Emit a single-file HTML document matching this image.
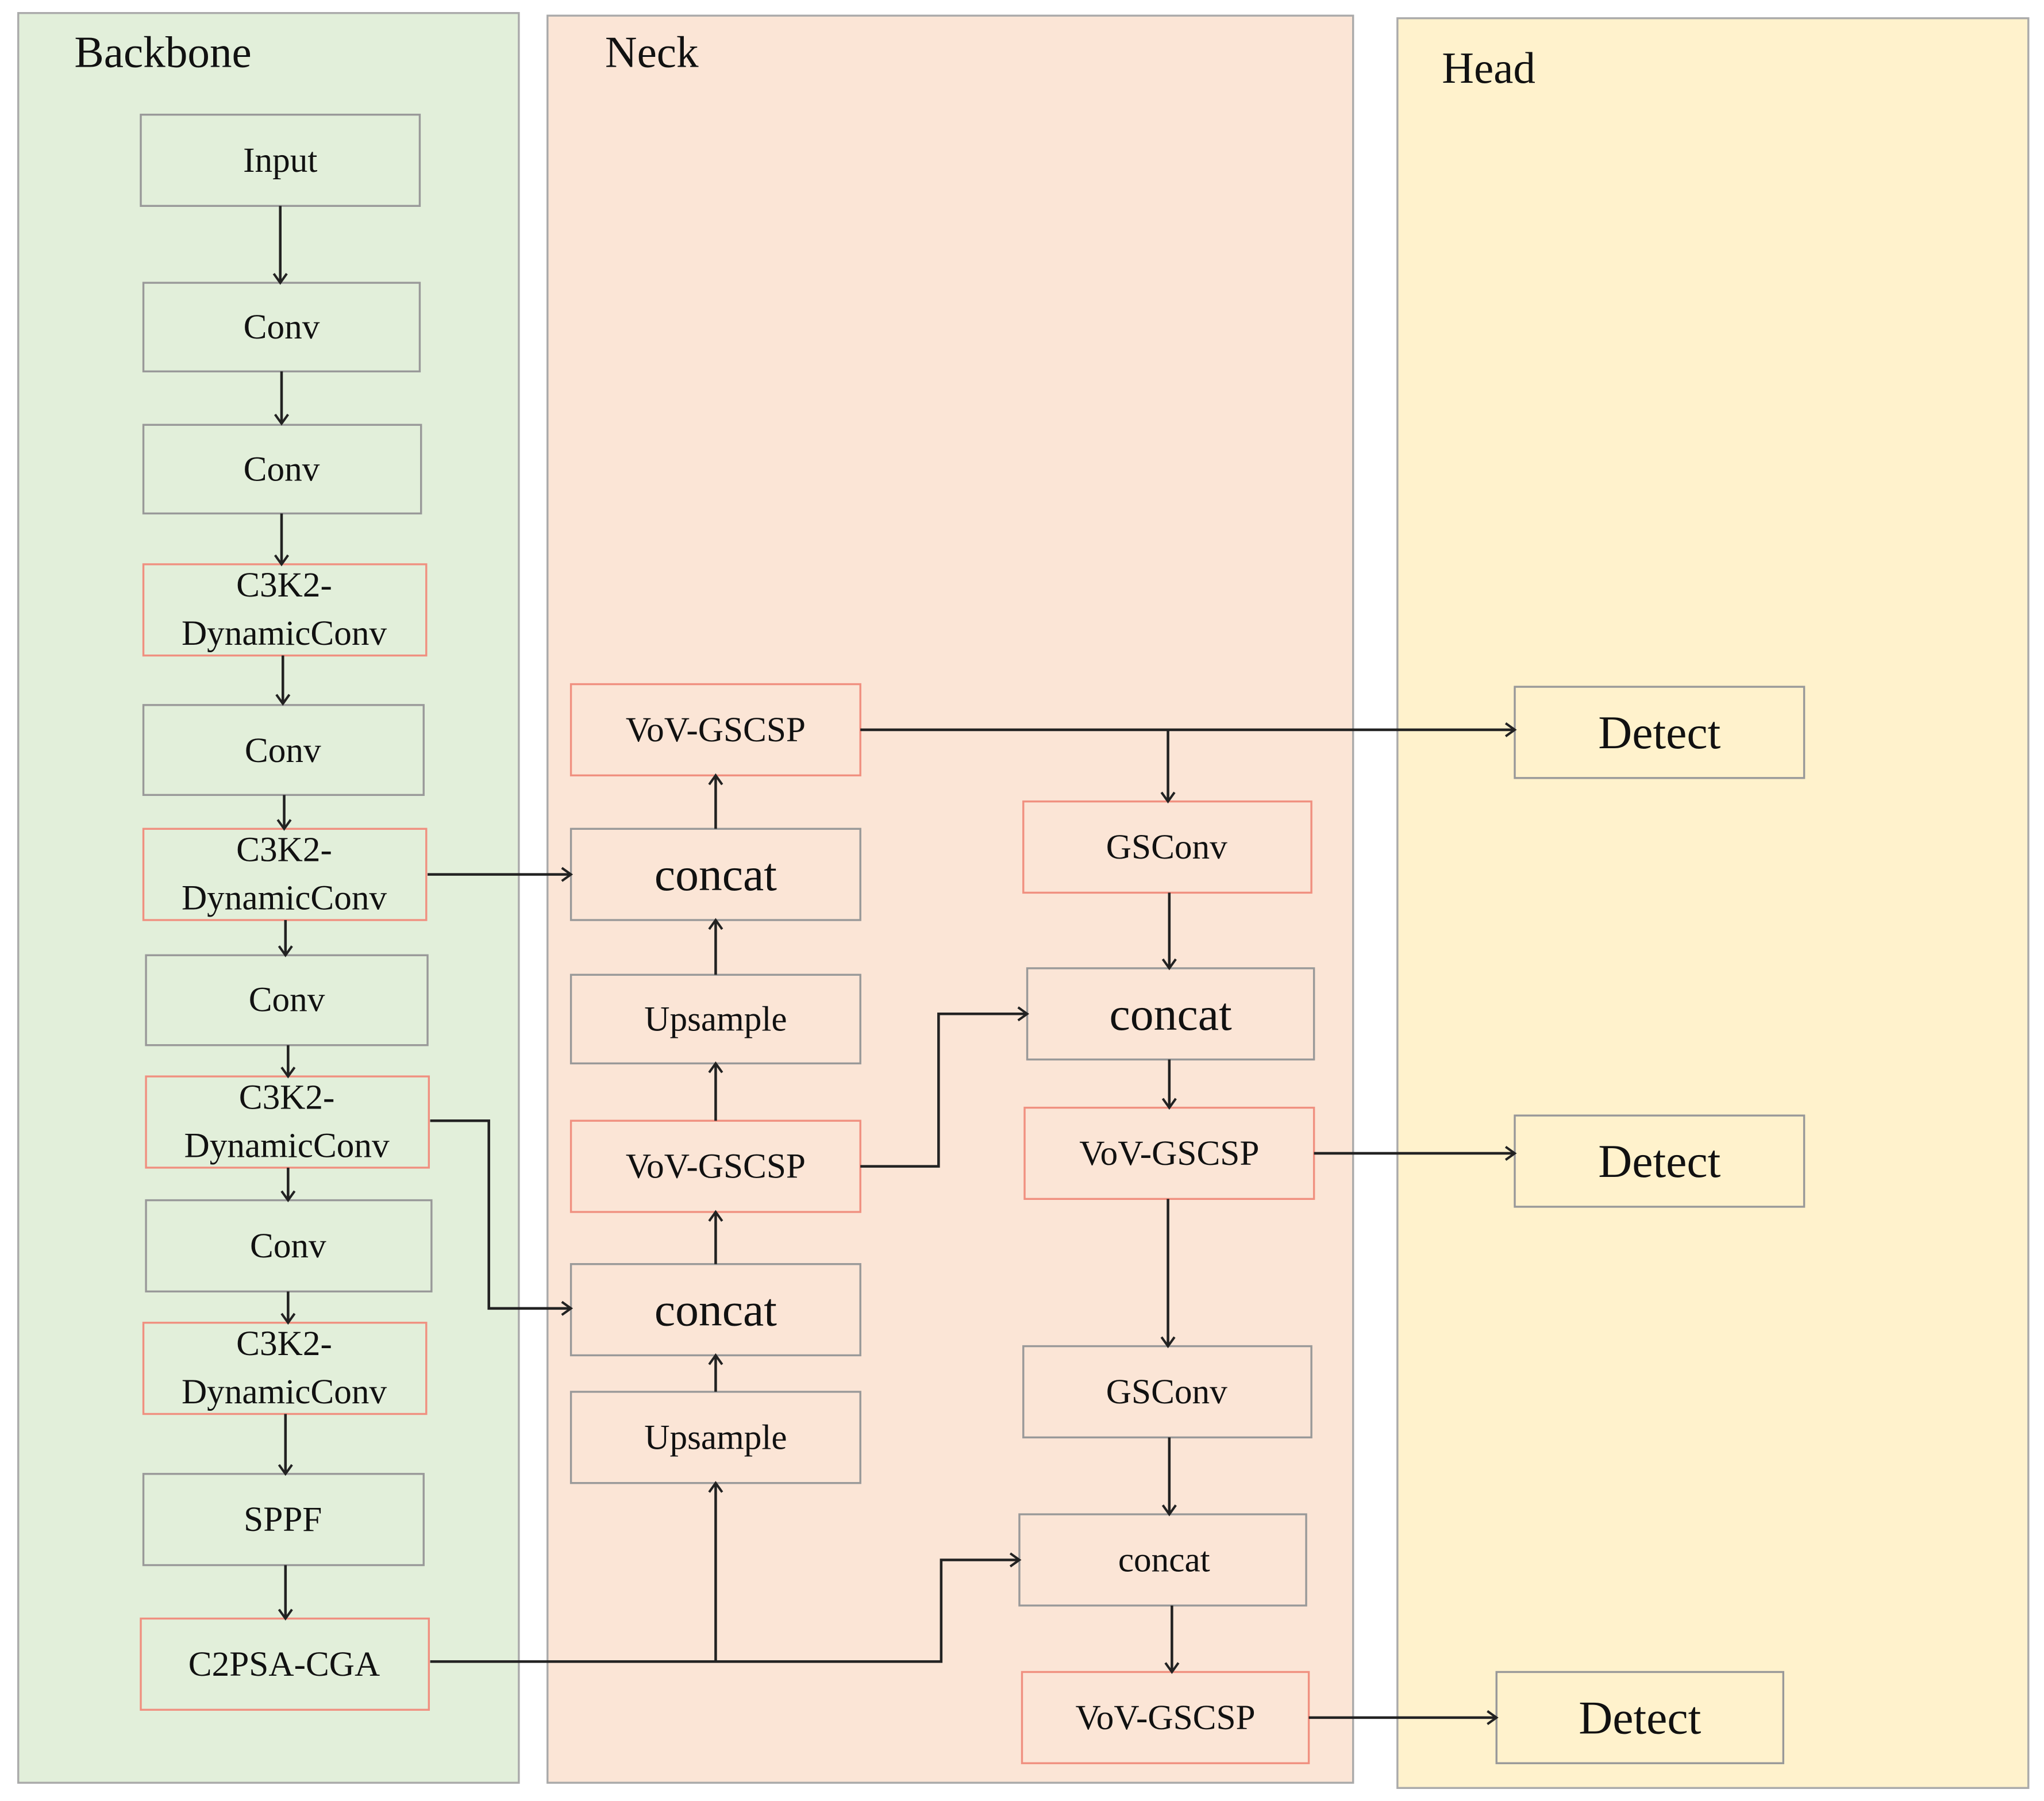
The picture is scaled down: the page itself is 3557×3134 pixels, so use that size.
<!DOCTYPE html>
<html><head><meta charset="utf-8"><style>
html,body{margin:0;padding:0;background:#fff;}
svg{display:block;}
text{font-family:"Liberation Serif",serif;fill:#111;text-anchor:middle;dominant-baseline:central;}
</style></head><body>
<svg width="3557" height="3134" viewBox="0 0 1568 1382" preserveAspectRatio="none" xmlns="http://www.w3.org/2000/svg">
<defs>
<marker id="a" markerWidth="12" markerHeight="12" refX="10" refY="6" orient="auto" markerUnits="userSpaceOnUse">
<polyline points="3,1 10,6 3,11" fill="none" stroke="#222" stroke-width="1.8"/>
</marker>
</defs>
<rect width="1568" height="1382" fill="#fff"/>
<rect x="14" y="10" width="384" height="1358" fill="#e2efda" stroke="#aaa" stroke-width="1.5"/>
<rect x="420" y="12" width="618" height="1356" fill="#fbe5d6" stroke="#aaa" stroke-width="1.5"/>
<rect x="1072" y="14" width="484" height="1358" fill="#fff2cc" stroke="#aaa" stroke-width="1.5"/>
<text x="125" y="40" font-size="34">Backbone</text>
<text x="500" y="40" font-size="34">Neck</text>
<text x="1142" y="52" font-size="34">Head</text>

<g stroke-width="1.5">
<!-- backbone -->
<rect x="108" y="88" width="214" height="70" fill="#e2efda" stroke="#999"/>
<rect x="110" y="217" width="212" height="68" fill="#e2efda" stroke="#999"/>
<rect x="110" y="326" width="213" height="68" fill="#e2efda" stroke="#999"/>
<rect x="110" y="433" width="217" height="70" fill="#e2efda" stroke="#f09080"/>
<rect x="110" y="541" width="215" height="69" fill="#e2efda" stroke="#999"/>
<rect x="110" y="636" width="217" height="70" fill="#e2efda" stroke="#f09080"/>
<rect x="112" y="733" width="216" height="69" fill="#e2efda" stroke="#999"/>
<rect x="112" y="826" width="217" height="70" fill="#e2efda" stroke="#f09080"/>
<rect x="112" y="921" width="219" height="70" fill="#e2efda" stroke="#999"/>
<rect x="110" y="1015" width="217" height="70" fill="#e2efda" stroke="#f09080"/>
<rect x="110" y="1131" width="215" height="70" fill="#e2efda" stroke="#999"/>
<rect x="108" y="1242" width="221" height="70" fill="#e2efda" stroke="#f09080"/>
<!-- neck -->
<rect x="438" y="525" width="222" height="70" fill="#fbe5d6" stroke="#f09080"/>
<rect x="438" y="636" width="222" height="70" fill="#fbe5d6" stroke="#999"/>
<rect x="438" y="748" width="222" height="68" fill="#fbe5d6" stroke="#999"/>
<rect x="438" y="860" width="222" height="70" fill="#fbe5d6" stroke="#f09080"/>
<rect x="438" y="970" width="222" height="70" fill="#fbe5d6" stroke="#999"/>
<rect x="438" y="1068" width="222" height="70" fill="#fbe5d6" stroke="#999"/>
<rect x="785" y="615" width="221" height="70" fill="#fbe5d6" stroke="#f09080"/>
<rect x="788" y="743" width="220" height="70" fill="#fbe5d6" stroke="#999"/>
<rect x="786" y="850" width="222" height="70" fill="#fbe5d6" stroke="#f09080"/>
<rect x="785" y="1033" width="221" height="70" fill="#fbe5d6" stroke="#999"/>
<rect x="782" y="1162" width="220" height="70" fill="#fbe5d6" stroke="#999"/>
<rect x="784" y="1283" width="220" height="70" fill="#fbe5d6" stroke="#f09080"/>
<!-- head -->
<rect x="1162" y="527" width="222" height="70" fill="#fff2cc" stroke="#999"/>
<rect x="1162" y="856" width="222" height="70" fill="#fff2cc" stroke="#999"/>
<rect x="1148" y="1283" width="220" height="70" fill="#fff2cc" stroke="#999"/>
</g>

<g font-size="27">
<text x="215" y="123">Input</text>
<text x="216" y="251">Conv</text>
<text x="216" y="360">Conv</text>
<text x="218" y="449">C3K2-</text><text x="218" y="486">DynamicConv</text>
<text x="217" y="576">Conv</text>
<text x="218" y="652">C3K2-</text><text x="218" y="689">DynamicConv</text>
<text x="220" y="767">Conv</text>
<text x="220" y="842">C3K2-</text><text x="220" y="879">DynamicConv</text>
<text x="221" y="956">Conv</text>
<text x="218" y="1031">C3K2-</text><text x="218" y="1068">DynamicConv</text>
<text x="217" y="1166">SPPF</text>
<text x="218" y="1277">C2PSA-CGA</text>
<text x="549" y="560">VoV-GSCSP</text>
<text x="549" y="782">Upsample</text>
<text x="549" y="895">VoV-GSCSP</text>
<text x="549" y="1103">Upsample</text>
<text x="895" y="650">GSConv</text>
<text x="897" y="885">VoV-GSCSP</text>
<text x="895" y="1068">GSConv</text>
<text x="893" y="1197">concat</text>
<text x="894" y="1318">VoV-GSCSP</text>
</g>
<g font-size="36">
<text x="549" y="671">concat</text>
<text x="549" y="1005">concat</text>
<text x="898" y="778">concat</text>
<text x="1273" y="562">Detect</text>
<text x="1273" y="891">Detect</text>
<text x="1258" y="1318">Detect</text>
</g>

<g stroke="#222" stroke-width="2" fill="none" marker-end="url(#a)">
<line x1="215" y1="158" x2="215" y2="217"/>
<line x1="216" y1="285" x2="216" y2="325"/>
<line x1="216" y1="394" x2="216" y2="433"/>
<line x1="217" y1="503" x2="217" y2="540"/>
<line x1="218" y1="610" x2="218" y2="636"/>
<line x1="219" y1="706" x2="219" y2="733"/>
<line x1="221" y1="802" x2="221" y2="826"/>
<line x1="221" y1="896" x2="221" y2="921"/>
<line x1="221" y1="991" x2="221" y2="1015"/>
<line x1="219" y1="1085" x2="219" y2="1131"/>
<line x1="219" y1="1201" x2="219" y2="1242"/>
<line x1="328" y1="671" x2="438" y2="671"/>
<polyline points="330,860 375,860 375,1004 438,1004"/>
<line x1="549" y1="1275" x2="549" y2="1138"/>
<polyline points="330,1275 722,1275 722,1197 782,1197"/>
<line x1="549" y1="1068" x2="549" y2="1040"/>
<line x1="549" y1="970" x2="549" y2="930"/>
<line x1="549" y1="860" x2="549" y2="816"/>
<line x1="549" y1="748" x2="549" y2="706"/>
<line x1="549" y1="636" x2="549" y2="595"/>
<line x1="660" y1="560" x2="1162" y2="560"/>
<line x1="896" y1="560" x2="896" y2="615"/>
<line x1="897" y1="685" x2="897" y2="743"/>
<polyline points="660,895 720,895 720,778 788,778"/>
<line x1="897" y1="813" x2="897" y2="850"/>
<line x1="1008" y1="885" x2="1162" y2="885"/>
<line x1="896" y1="920" x2="896" y2="1033"/>
<line x1="897" y1="1103" x2="897" y2="1162"/>
<line x1="899" y1="1232" x2="899" y2="1283"/>
<line x1="1004" y1="1318" x2="1148" y2="1318"/>
</g>
</svg>
</body></html>
